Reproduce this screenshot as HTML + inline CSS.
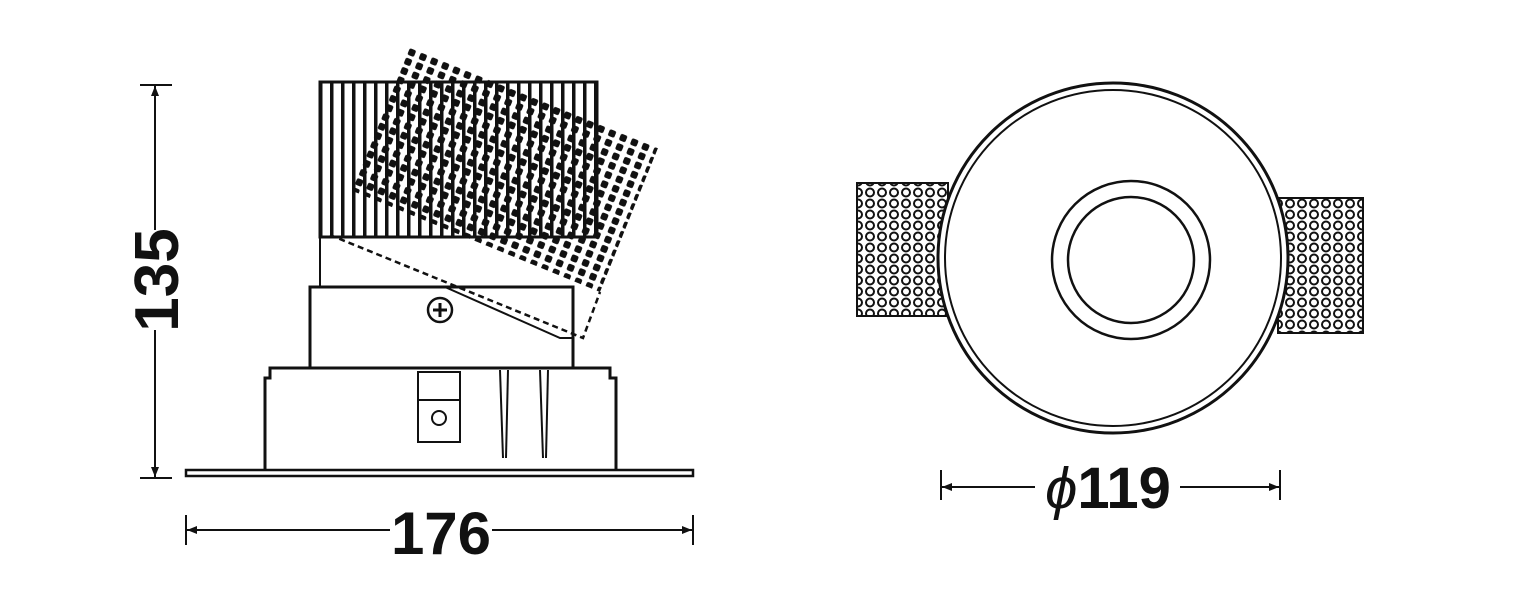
<!DOCTYPE html>
<html><head><style>html,body{margin:0;padding:0;background:#fff;}svg{display:block}</style></head>
<body>
<svg width="1535" height="591" viewBox="0 0 1535 591" xmlns="http://www.w3.org/2000/svg">
<defs>
<pattern id="dots" width="12" height="10" patternUnits="userSpaceOnUse" patternTransform="rotate(22)">
<rect x="2" y="1" width="7" height="7" rx="2" fill="#111"/>
</pattern>
<pattern id="fins" width="11" height="10" patternUnits="userSpaceOnUse">
<rect x="0" y="0" width="3.5" height="10" fill="#111"/>
</pattern>
<pattern id="holes" width="12" height="11" patternUnits="userSpaceOnUse">
<circle cx="6" cy="5.5" r="4" fill="none" stroke="#111" stroke-width="2"/>
</pattern>
<marker id="ar" viewBox="0 0 10 10" refX="10" refY="5" markerWidth="14" markerHeight="10" markerUnits="userSpaceOnUse" orient="auto">
<path d="M0 1 L10 5 L0 9 Z" fill="#111"/>
</marker>
</defs>
<g stroke="#111" fill="none" stroke-width="2">
<!-- vertical dim -->
<line x1="155" y1="230" x2="155" y2="86" marker-end="url(#ar)"/>
<line x1="155" y1="330" x2="155" y2="477" marker-end="url(#ar)"/>
<line x1="140" y1="85" x2="172" y2="85"/>
<line x1="140" y1="478" x2="172" y2="478"/>
<!-- horizontal dim -->
<line x1="390" y1="530" x2="187" y2="530" marker-end="url(#ar)"/>
<line x1="492" y1="530" x2="692" y2="530" marker-end="url(#ar)"/>
<line x1="186" y1="515" x2="186" y2="545"/>
<line x1="693" y1="515" x2="693" y2="545"/>
<!-- base plate -->
<rect x="186" y="470" width="507" height="6" stroke-width="2.5"/>
<!-- housing -->
<path d="M265 470 V378 H270 V368 H610 V378 H616 V470" stroke-width="3"/>
<rect x="418" y="372" width="42" height="70"/>
<rect x="418" y="400" width="42" height="42"/>
<circle cx="439" cy="418" r="7"/>
<line x1="500" y1="370" x2="503" y2="458"/><line x1="508" y1="370" x2="506" y2="458"/>
<line x1="540" y1="370" x2="543" y2="458"/><line x1="548" y1="370" x2="546" y2="458"/>
<!-- middle ring -->
<rect x="310" y="287" width="263" height="81" stroke-width="3"/>
<circle cx="440" cy="310" r="12" stroke-width="2.5"/>
<path d="M433 310 H447 M440 303 V317" stroke-width="3"/>
<path d="M445 287 L560 338 L573 338"/>
<!-- heat sink -->
<rect x="320" y="82" width="277" height="155" fill="url(#fins)" stroke-width="3"/>
<line x1="320" y1="237" x2="320" y2="287"/>
<!-- tilted -->
<polygon points="410,47 658,148 600,292 350,190" fill="url(#dots)" stroke="none"/>
<path d="M330 235 L583 338 L600 292" stroke-dasharray="6 4" stroke-width="2.5"/>
<!-- right view -->
<rect x="857" y="183" width="91" height="133" fill="url(#holes)"/>
<rect x="1278" y="198" width="85" height="135" fill="url(#holes)"/>
<circle cx="1113" cy="258" r="175" fill="#fff" stroke-width="3"/>
<circle cx="1113" cy="258" r="168" stroke-width="2"/>
<circle cx="1131" cy="260" r="79" stroke-width="2.5"/>
<circle cx="1131" cy="260" r="63" stroke-width="2.5"/>
<line x1="1035" y1="487" x2="942" y2="487" marker-end="url(#ar)"/>
<line x1="1180" y1="487" x2="1279" y2="487" marker-end="url(#ar)"/>
<line x1="941" y1="470" x2="941" y2="500"/>
<line x1="1280" y1="470" x2="1280" y2="500"/>
</g>
<g font-family="Liberation Sans, sans-serif" font-weight="bold" fill="#111">
<text x="0" y="0" font-size="62" text-anchor="middle" transform="translate(178,280) rotate(-90)">135</text>
<text x="441" y="554" font-size="60" text-anchor="middle">176</text>
<text x="1108" y="508" font-size="58" text-anchor="middle"><tspan font-style="italic" font-weight="normal">ϕ</tspan>119</text>
</g>
</svg>
</body></html>
